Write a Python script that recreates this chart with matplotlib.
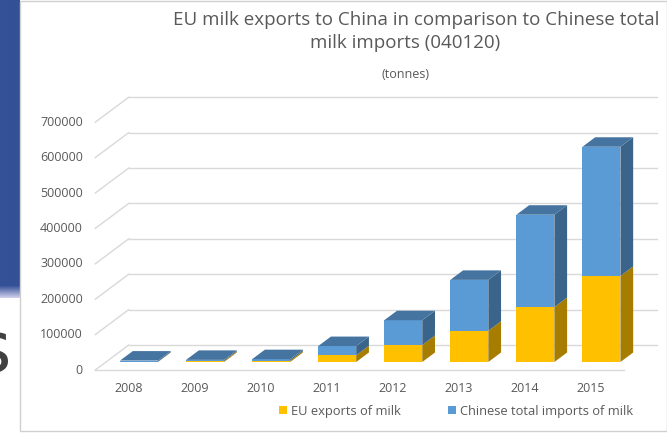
import numpy as np
import matplotlib.pyplot as plt
from matplotlib.patches import Polygon, Rectangle

# data (tonnes)
years = ['2008', '2009', '2010', '2011', '2012', '2013', '2014', '2015']
eu_exports = [1000, 3000, 4000, 19000, 48000, 88000, 155000, 243000]
cn_imports = [3000, 3000, 4000, 26000, 70000, 144000, 261000, 365000]
y_ticks = [0, 100000, 200000, 300000, 400000, 500000, 600000, 700000]

title_lines = ['EU milk exports to China in comparison to Chinese total',
               'milk imports (040120)']
subtitle = '(tonnes)'
labels = ['EU exports of milk', 'Chinese total imports of milk']

# colours
yellow, yellow_side = '#FFC000', '#A67D00'
blue, blue_side, blue_top = '#5B9BD5', '#3A6489', '#4674A0'
grid_c = '#D9D9D9'
text_c = '#595959'

plt.rcParams['font.family'] = ['Open Sans', 'DejaVu Sans']

W, H = 667, 433
fig = plt.figure(figsize=(W / 100, H / 100), dpi=100)
fig.patch.set_facecolor('white')

# pixel layout of the front plane
X0, PX_CAT = 128.3, 66.06      # px of first category, px per category
Y0, PX_VAL = 370.0, 35.4e-5    # px of value 0, px per tonne
DX, DY = 33.5 / PX_CAT, 25.0 / PX_VAL   # full depth of the floor
Z0, Z1 = 0.32, 0.70            # bar depth span
BW = 0.575

ax = fig.add_axes([0, 0, 1, 1])
ax.set_xlim((0 - X0) / PX_CAT, (W - X0) / PX_CAT)
ax.set_ylim((Y0 - H) / PX_VAL, Y0 / PX_VAL)
ax.axis('off')

# left strip of the slide behind the chart
strip = fig.add_axes([0, 1 - 298 / H, 19.5 / W, 298 / H])
grad = np.ones((298, 1, 3))
base = np.array([52, 80, 150]) / 255
for i in range(298):
    if i < 285:
        grad[i, 0] = base
    else:
        t = (i - 285) / 13
        grad[i, 0] = base * (1 - t) + np.array([0.85, 0.85, 0.95]) * t
strip.imshow(grad, aspect='auto', interpolation='bilinear')
strip.axis('off')
fig.text(11 / W, 1 - 372 / H, 's', fontsize=52, color='#404040',
         ha='right', va='baseline', family='DejaVu Sans')

# chart frame
fig.add_artist(Rectangle((20 / W, 1 - 431 / H), (W - 20) / W, 430 / H,
                         transform=fig.transFigure, fill=False,
                         edgecolor='#D0D0D0', lw=1))

# walls and floor
xl, xr = -0.5, len(years) - 0.5
for v in y_ticks:
    ax.plot([xl + DX, xr + DX], [v + DY, v + DY], color=grid_c, lw=1, zorder=1)
    ax.plot([xl, xl + DX], [v, v + DY], color=grid_c, lw=1, zorder=1)
    ax.text(xl - 0.19, v, str(v), ha='right', va='center', fontsize=9, color=text_c)
ax.plot([xl, xr], [0, 0], color=grid_c, lw=1, zorder=1)

x = np.arange(len(years))
fx = x + Z0 * DX
ax.bar(fx, eu_exports, width=BW, bottom=Z0 * DY, color=yellow, zorder=3, label=labels[0])
ax.bar(fx, cn_imports, width=BW, bottom=Z0 * DY + np.array(eu_exports), color=blue,
       zorder=3, label=labels[1])

ddx, ddy = (Z1 - Z0) * DX, (Z1 - Z0) * DY
for i in range(len(years)):
    left, right = fx[i] - BW / 2, fx[i] + BW / 2
    b0 = Z0 * DY
    b1 = b0 + eu_exports[i]
    b2 = b1 + cn_imports[i]
    for lo, hi, c in [(b0, b1, yellow_side), (b1, b2, blue_side)]:
        ax.add_patch(Polygon([(right, lo), (right + ddx, lo + ddy),
                              (right + ddx, hi + ddy), (right, hi)],
                             closed=True, facecolor=c, edgecolor='none', zorder=3))
    ax.add_patch(Polygon([(left, b2), (right, b2), (right + ddx, b2 + ddy),
                          (left + ddx, b2 + ddy)],
                         closed=True, facecolor=blue_top, edgecolor='none', zorder=3))

for i, yr in enumerate(years):
    ax.text(i, (Y0 - 389) / PX_VAL, yr, ha='center', va='center', fontsize=9, color=text_c)

fig.text(416.5 / W, 1 - 20 / H, title_lines[0], ha='center', va='center',
         fontsize=13.5, color=text_c)
fig.text(405 / W, 1 - 43 / H, title_lines[1], ha='center', va='center',
         fontsize=13.5, color=text_c)
fig.text(406 / W, 1 - 74 / H, subtitle, ha='center', va='center', fontsize=9, color=text_c)

leg = fig.legend(loc='center', bbox_to_anchor=(456 / W, 1 - 411 / H), ncol=2,
                 frameon=False, fontsize=9.3, handlelength=0.65, handleheight=0.65,
                 handletextpad=0.3, columnspacing=3.6, labelcolor=text_c)

fig.savefig('out.png', dpi=100)
